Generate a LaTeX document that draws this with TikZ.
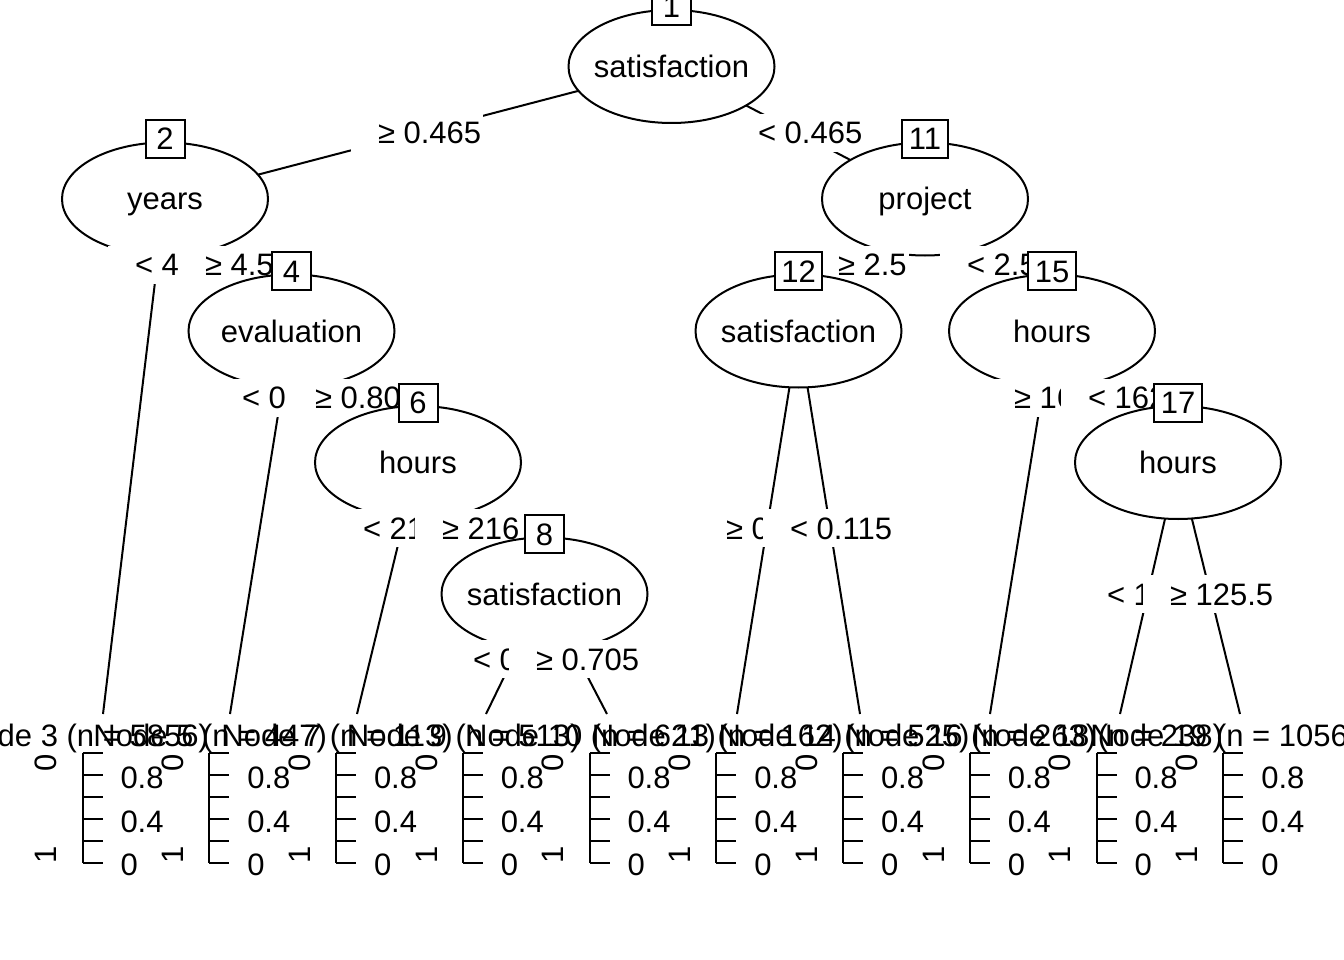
\documentclass[tikz,border=0pt]{standalone}
\usepackage{fontspec}
\setmainfont{Liberation Sans}
\usetikzlibrary{shapes.geometric}
\tikzset{
  splitnode/.style={ellipse, draw, fill=white, minimum width=206pt, minimum height=113pt, inner sep=0pt},
  nodeid/.style={draw, fill=white, minimum width=39pt, minimum height=38pt, inner xsep=6.5pt, inner ysep=0pt, text height=22pt, text depth=0pt},
  edgelab/.style={fill=white, anchor=west, inner xsep=2pt, inner ysep=0pt, minimum height=38pt, text height=22pt, text depth=0pt, execute at begin node={\hspace*{25pt}}},
  axlab/.style={inner sep=0pt, anchor=west, text height=22pt, text depth=0pt},
  every label/.style={inner sep=0pt, text height=22pt, text depth=0pt}
}
\begin{document}
\begin{tikzpicture}[x=1pt, y=-1pt, line width=2pt, font=\fontsize{31pt}{37pt}\selectfont]
\useasboundingbox (0,0) rectangle (1344,960);
\clip (0,0) rectangle (1344,960);
% split points
\coordinate (p1) at (671.5,66.5);
\coordinate (p2) at (165,199);
\coordinate (p4) at (291.5,331);
\coordinate (p6) at (418,462.5);
\coordinate (p8) at (544.5,594);
\coordinate (p11) at (925,199);
\coordinate (p12) at (798.5,331);
\coordinate (p15) at (1052,331);
\coordinate (p17) at (1178,462.5);
% tops of the terminal panels
\coordinate (t3) at (103,714);
\coordinate (t5) at (230,714);
\coordinate (t7) at (357,714);
\coordinate (t9) at (486,714);
\coordinate (t10) at (607,714);
\coordinate (t13) at (737,714);
\coordinate (t14) at (860,714);
\coordinate (t16) at (990,714);
\coordinate (t18) at (1120,714);
\coordinate (t19) at (1240,714);
% edges
\draw (p1) -- (p2);
\draw (p1) -- (p11);
\draw (p2) -- (t3);
\draw (p2) -- (p4);
\draw (p4) -- (t5);
\draw (p4) -- (p6);
\draw (p6) -- (t7);
\draw (p6) -- (p8);
\draw (p8) -- (t9);
\draw (p8) -- (t10);
\draw (p11) -- (p12);
\draw (p11) -- (p15);
\draw (p12) -- (t13);
\draw (p12) -- (t14);
\draw (p15) -- (t16);
\draw (p15) -- (p17);
\draw (p17) -- (t18);
\draw (p17) -- (t19);
% inner nodes and split labels
\node[splitnode, label=center:satisfaction] (n1) at (p1) {};
\node[nodeid, yshift=2.5pt] (id1) at (n1.north) {1};
\node[edgelab] (l2) at (350,133) {≥ 0.465};
\node[edgelab] (l11) at (730,133) {< 0.465};
\node[splitnode, label=center:years] (n2) at (p2) {};
\node[nodeid, yshift=2.5pt] (id2) at (n2.north) {2};
\node[edgelab] (l3) at (107,265) {< 4.5};
\node[edgelab] (l4) at (177,265) {≥ 4.5};
\node[splitnode, label=center:evaluation] (n4) at (p4) {};
\node[nodeid, yshift=2.5pt] (id4) at (n4.north) {4};
\node[edgelab] (l5) at (214,397.5) {< 0.805};
\node[edgelab] (l6) at (287,397.5) {≥ 0.805};
\node[splitnode, label=center:hours] (n6) at (p6) {};
\node[nodeid, yshift=2.5pt] (id6) at (n6.north) {6};
\node[edgelab] (l7) at (335,528) {< 216};
\node[edgelab] (l8) at (414,528) {≥ 216};
\node[splitnode, label=center:satisfaction] (n8) at (p8) {};
\node[nodeid, yshift=2.5pt] (id8) at (n8.north) {8};
\node[edgelab] (l9) at (445,659) {< 0.705};
\node[edgelab] (l10) at (508,659) {≥ 0.705};
\node[splitnode, label=center:project] (n11) at (p11) {};
\node[nodeid, yshift=2.5pt] (id11) at (n11.north) {11};
\node[edgelab] (l12) at (810,265) {≥ 2.5};
\node[edgelab] (l15) at (939,265) {< 2.5};
\node[splitnode, label=center:satisfaction] (n12) at (p12) {};
\node[nodeid, yshift=2.5pt] (id12) at (n12.north) {12};
\node[edgelab] (l13) at (698,528) {≥ 0.115};
\node[edgelab] (l14) at (762,528) {< 0.115};
\node[splitnode, label=center:hours] (n15) at (p15) {};
\node[nodeid, yshift=2.5pt] (id15) at (n15.north) {15};
\node[edgelab] (l16) at (986,397.5) {≥ 162};
\node[edgelab] (l17) at (1060,397.5) {< 162};
\node[splitnode, label=center:hours] (n17) at (p17) {};
\node[nodeid, yshift=2.5pt] (id17) at (n17.north) {17};
\node[edgelab] (l18) at (1079,594) {< 125.5};
\node[edgelab] (l19) at (1142,594) {≥ 125.5};
% terminal panels
\foreach \k/\cnt [count=\i from 0] in {3/5856,5/447,7/113,9/513,10/621,13/162,14/525,16/263,18/238,19/1056}{
  \pgfmathsetmacro{\bx}{82.5+126.75*\i}
  \node[axlab, anchor=center] (head\k) at (\bx+1,735) {Node \k\ (n = \cnt)};
  \draw (\bx,753.3) -- (\bx,862.8);
  \foreach \j in {0,...,5} \draw (\bx,753.3+21.9*\j) -- ++(20,0);
  \node[axlab] (hi\k) at (\bx+37,777.5) {0.8};
  \node[axlab] (mid\k) at (\bx+37,821) {0.4};
  \node[axlab] (lo\k) at (\bx+37,864) {0};
  \node[axlab, anchor=center, rotate=90] (zero\k) at (\bx-36.7,763.3) {0};
  \node[axlab, anchor=center, rotate=90] (one\k) at (\bx-36.7,854.5) {1};
}
\end{tikzpicture}
\end{document}
